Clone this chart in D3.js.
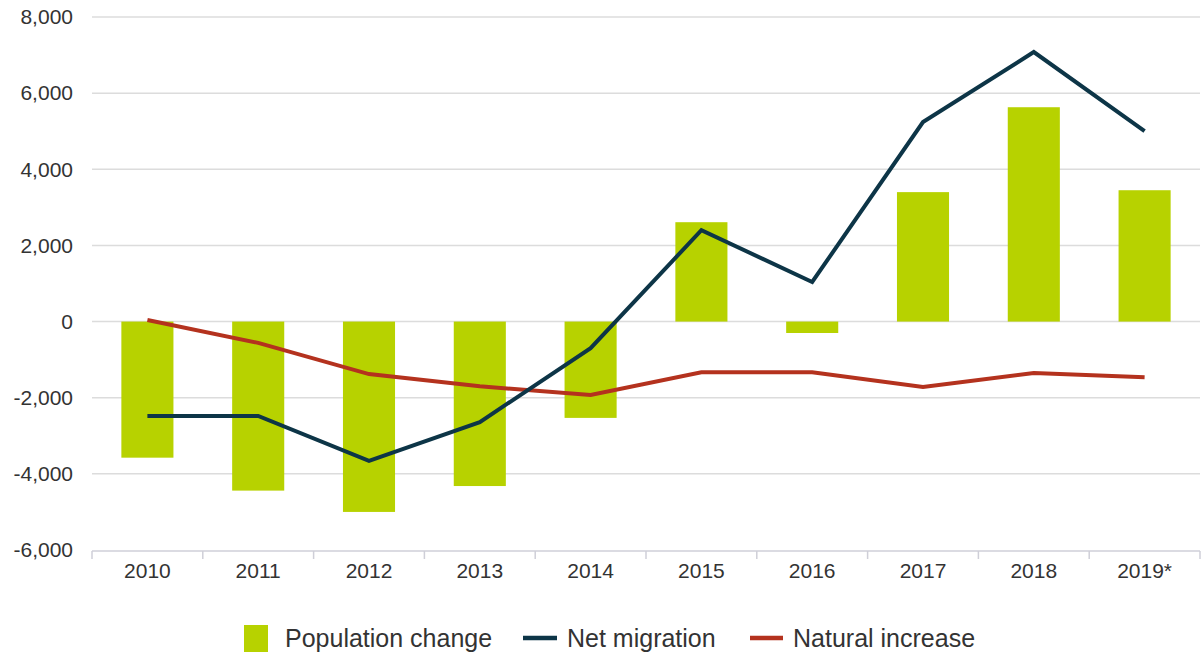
<!DOCTYPE html>
<html>
<head>
<meta charset="utf-8">
<script src="https://cdn.jsdelivr.net/npm/d3@7"></script>
<style>
  body { margin: 0; background: #fff; }
  text { font-family: "Liberation Sans", Arial, sans-serif; fill: #333; }
</style>
</head>
<body>
<div id="main"></div>
<script>
const years = ["2010", "2011", "2012", "2013", "2014", "2015", "2016", "2017", "2018", "2019*"];
const populationChange = [-3575, -4440, -5000, -4320, -2530, 2610, -300, 3400, 5630, 3450];
const netMigration = [-2480, -2480, -3660, -2640, -700, 2400, 1040, 5240, 7080, 5000];
const naturalIncrease = [40, -560, -1380, -1700, -1930, -1330, -1330, -1720, -1350, -1460];
const yTicks = [-6000, -4000, -2000, 0, 2000, 4000, 6000, 8000];

const c = { width: 1203, height: 656, left: 92, right: 3, top: 17, bottom: 106 };
const w = c.width - c.left - c.right;
const h = c.height - c.top - c.bottom;

const svg = d3.select("#main").append("svg")
  .attr("width", c.width)
  .attr("height", c.height);

const g = svg.append("g").attr("transform", `translate(${c.left},${c.top})`);

const x = d3.scaleBand().domain(years).range([0, w]).paddingInner(0.53).paddingOuter(0.265);
const xEdges = d3.scaleBand().domain(years).range([0, w]);
const y = d3.scaleLinear().domain([-6000, 8000]).range([h, 0]);

const fmt = d => d3.format(",")(d).replace("\u2212", "-");

// gridlines
g.selectAll(".grid").data(yTicks.filter(d => d !== -6000)).join("line")
  .attr("x1", 0).attr("x2", w)
  .attr("y1", d => y(d)).attr("y2", d => y(d))
  .attr("stroke", "#dcdcdc").attr("stroke-width", 1.5);

// y labels
g.selectAll(".ylab").data(yTicks).join("text")
  .attr("x", -19).attr("y", d => y(d)).attr("dy", "0.35em")
  .attr("text-anchor", "end").attr("font-size", 21)
  .text(fmt);

// x axis
const xAxisG = g.append("g").attr("transform", `translate(0,${h + 1})`);
xAxisG.append("line").attr("x1", 0).attr("x2", w).attr("stroke", "#cfcfd8").attr("stroke-width", 1.5);
xAxisG.selectAll(".tick").data(years.map(d => xEdges(d)).concat([w])).join("line")
  .attr("x1", d => d).attr("x2", d => d).attr("y1", 0).attr("y2", 8)
  .attr("stroke", "#cfcfd8").attr("stroke-width", 1.5);
xAxisG.selectAll(".xlab").data(years).join("text")
  .attr("x", d => x(d) + x.bandwidth() / 2).attr("y", 27)
  .attr("text-anchor", "middle").attr("font-size", 21)
  .text(d => d);

// bars
g.selectAll(".bar").data(years).join("rect")
  .attr("x", d => x(d))
  .attr("width", x.bandwidth())
  .attr("y", (d, i) => y(Math.max(0, populationChange[i])))
  .attr("height", (d, i) => Math.abs(y(populationChange[i]) - y(0)))
  .attr("fill", "#b7d200");

const line = d3.line()
  .x((d, i) => x(years[i]) + x.bandwidth() / 2)
  .y(d => y(d));

g.append("path").attr("d", line(naturalIncrease))
  .attr("fill", "none").attr("stroke", "#b4321e").attr("stroke-width", 4);
g.append("path").attr("d", line(netMigration))
  .attr("fill", "none").attr("stroke", "#0d3547").attr("stroke-width", 4);

// legend
const lg = svg.append("g").attr("transform", "translate(0,638)");
lg.append("rect").attr("x", 244).attr("y", -13).attr("width", 24).attr("height", 27).attr("fill", "#b7d200");
lg.append("text").attr("x", 285).attr("y", 0).attr("dy", "0.35em").attr("font-size", 25).text("Population change");
lg.append("line").attr("x1", 523).attr("x2", 557).attr("y1", 0).attr("y2", 0).attr("stroke", "#0d3547").attr("stroke-width", 4.5);
lg.append("text").attr("x", 567).attr("y", 0).attr("dy", "0.35em").attr("font-size", 25).text("Net migration");
lg.append("line").attr("x1", 750).attr("x2", 783).attr("y1", 0).attr("y2", 0).attr("stroke", "#b4321e").attr("stroke-width", 4.5);
lg.append("text").attr("x", 793).attr("y", 0).attr("dy", "0.35em").attr("font-size", 25).text("Natural increase");
</script>
</body>
</html>
